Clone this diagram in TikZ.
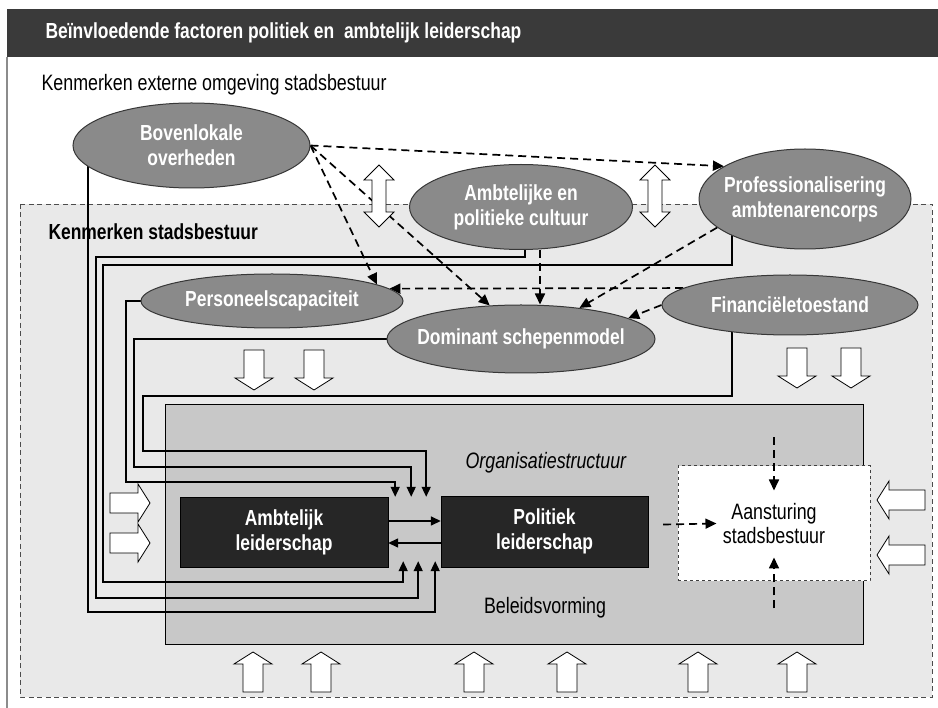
\documentclass[tikz,border=0pt]{standalone}
\usepackage{fontspec}
\setmainfont[FakeStretch=0.8]{Liberation Sans}
\usetikzlibrary{shapes.geometric,arrows.meta}
\definecolor{barcol}{RGB}{58,58,58}
\definecolor{zonecol}{RGB}{233,233,233}
\definecolor{orgcol}{RGB}{200,200,200}
\definecolor{ellcol}{RGB}{138,138,138}
\definecolor{ellline}{RGB}{55,55,55}
\definecolor{boxcol}{RGB}{38,38,38}
\pgfdeclarelayer{back}
\pgfdeclarelayer{wires}
\pgfsetlayers{back,wires,main}
\newcommand{\lblfont}{\fontsize{21.8}{25}\selectfont\bfseries}
\newcommand{\txtfont}{\fontsize{22.3}{24}\selectfont}
% white block arrows
\newcommand{\fatarrow}[4]{\draw[blk,shift={(#1,#2)},rotate=#3]
  (0,0) -- (-12,19) -- (-12,10) -- (-#4,10) -- (-#4,-10) -- (-12,-10) -- (-12,-19) -- cycle;}
\newcommand{\dblarrow}[2]{\draw[blk,shift={(#1,#2)}]
  (0,0) -- (15,15) -- (7,15) -- (7,47) -- (15,47) -- (0,62) -- (-15,47) -- (-7,47) -- (-7,15) -- (-15,15) -- cycle;}

\begin{document}
\begin{tikzpicture}[x=1pt, y=-1pt,
  ell/.style={ellipse, draw=ellline, fill=ellcol, line width=1pt, inner sep=0pt},
  elltxt/.style={text=white, font=\lblfont, align=center},
  lead/.style={draw=black, fill=boxcol, text=white, font=\lblfont, align=center},
  aanbox/.style={draw=black!75, fill=white, dashed, line width=1pt,
    font=\txtfont, align=center},
  lnk/.style={line width=1.5pt, -{Triangle[length=10pt,width=9pt]}},
  dsh/.style={line width=1.7pt, dash pattern=on 8pt off 5pt,
    -{Triangle[length=11pt,width=10pt]}},
  blk/.style={draw=black, fill=white, line width=0.8pt}
]
  \useasboundingbox (0,0) rectangle (938,708);

  \begin{pgfonlayer}{back}
    \fill[barcol] (7,9) rectangle (938,57);
    \draw[black!45, line width=1.2pt] (7,57) -- (7,708);
    \draw[fill=zonecol, draw=black!70, line width=0.8pt, dash pattern=on 5pt off 3.5pt]
      (20,204) rectangle (932,697);
    \draw[fill=orgcol, line width=1pt] (165,405) rectangle (863,644);
  \end{pgfonlayer}

  \node[anchor=west, text=white, font=\lblfont] (title) at (42,33)
    {Beïnvloedende factoren politiek en \ ambtelijk leiderschap};
  \node[anchor=west, font=\txtfont] (ext) at (38,85) {Kenmerken externe omgeving stadsbestuur};
  \node[anchor=west, font=\lblfont] (int) at (45,232) {Kenmerken stadsbestuur};
  \node[anchor=west, font=\txtfont\itshape] (orgl) at (462,463) {Organisatiestructuur};
  \node[font=\txtfont] (bel) at (545,608) {Beleidsvorming};

  % factors
  \node[ell, minimum width=237pt, minimum height=85pt,
    label={[elltxt]center:{Bovenlokale\\overheden}}] (bov) at (191.5,145.5) {};
  \node[ell, minimum width=223pt, minimum height=85pt,
    label={[elltxt]center:{Ambtelijke en\\politieke cultuur}}] (cul) at (521,207) {};
  \node[ell, minimum width=212pt, minimum height=100pt,
    label={[elltxt]center:{Professionalisering\\ambtenarencorps}}] (pro) at (805,199) {};
  \node[ell, minimum width=262pt, minimum height=54pt,
    label={[elltxt]center:Personeelscapaciteit}] (per) at (272,301) {};
  \node[ell, minimum width=268pt, minimum height=68pt,
    label={[elltxt]center:Dominant schepenmodel}] (dom) at (521,339) {};
  \node[ell, minimum width=256pt, minimum height=60pt,
    label={[elltxt]center:Financiëletoestand}] (fin) at (790,305) {};

  % leadership
  \node[lead, minimum width=208pt, minimum height=70pt] (amb) at (284,532) {Ambtelijk\\leiderschap};
  \node[lead, minimum width=207pt, minimum height=71pt] (pol) at (544.5,531.5) {Politiek\\leiderschap};
  \node[aanbox, minimum width=192pt, minimum height=115pt] (aan) at (774,523.5) {Aansturing\\stadsbestuur};

  \coordinate (tA1) at ([xshift=7pt]amb.north east);
  \coordinate (tA2) at ([xshift=23pt]amb.north east);
  \coordinate (tA3) at ([xshift=38pt]amb.north east);
  \coordinate (tB1) at ([xshift=15pt,yshift=6pt]amb.south east);
  \coordinate (tB2) at ([xshift=30pt,yshift=6pt]amb.south east);
  \coordinate (tB3) at ([xshift=47pt,yshift=6pt]amb.south east);

  \begin{pgfonlayer}{wires}
    \draw[lnk] ([xshift=-103.5pt]bov.center) -- (88,612) -| (tB3);
    \draw[lnk] ([xshift=4pt]cul.center) |- (96,257) -- (96,598) -| (tB2);
    \draw[lnk] ([xshift=-73pt]pro.center) |- (103,265) -- (103,582) -| (tB1);
    \draw[lnk] (per.center) -| (126,482) -| (tA1);
    \draw[lnk] (dom.center) -| (134,467) -| (tA2);
    \draw[lnk] ([xshift=-58pt]fin.center) |- (143,396) -- (143,451) -| (tA3);

    \draw[dsh] (bov.east) -- (pro.158);
    \draw[dsh] (bov.east) -- (per.9);
    \draw[dsh] (bov.east) -- (dom.133);
    \draw[dsh] ([xshift=19pt]cul.south) -- ([xshift=19pt]dom.north);
    \draw[dsh] (pro.198) -- (dom.28);
    \draw[dsh] (fin.west) -- (dom.11);
    \draw[dsh] (fin.171) -- (per.6);
  \end{pgfonlayer}

  \draw[lnk] ([yshift=11pt]amb.east) -- ([yshift=10.5pt]pol.west);
  \draw[lnk] ([yshift=-11.5pt]pol.west) -- ([yshift=-11pt]amb.east);

  \draw[dsh] ([yshift=28pt]aan.north) -- ([yshift=-25pt]aan.north);
  \draw[dsh] ([yshift=-27pt]aan.south) -- ([yshift=24pt]aan.south);
  \draw[dsh] ([xshift=15pt,yshift=7pt]pol.east) -- ([xshift=39pt]aan.west);

  % block arrows
  \dblarrow{379}{165}
  \dblarrow{655}{165}
  \foreach \x in {254,314} {\fatarrow{\x}{390}{-90}{40}}
  \foreach \x in {797,851} {\fatarrow{\x}{388}{-90}{40}}
  \foreach \x in {253,321,474,567,698,797} {\fatarrow{\x}{652}{90}{40}}
  \foreach \y in {503,543} {\fatarrow{150}{\y}{0}{40}}
  \foreach \y in {500,555} {\fatarrow{877}{\y}{180}{48}}
\end{tikzpicture}
\end{document}
